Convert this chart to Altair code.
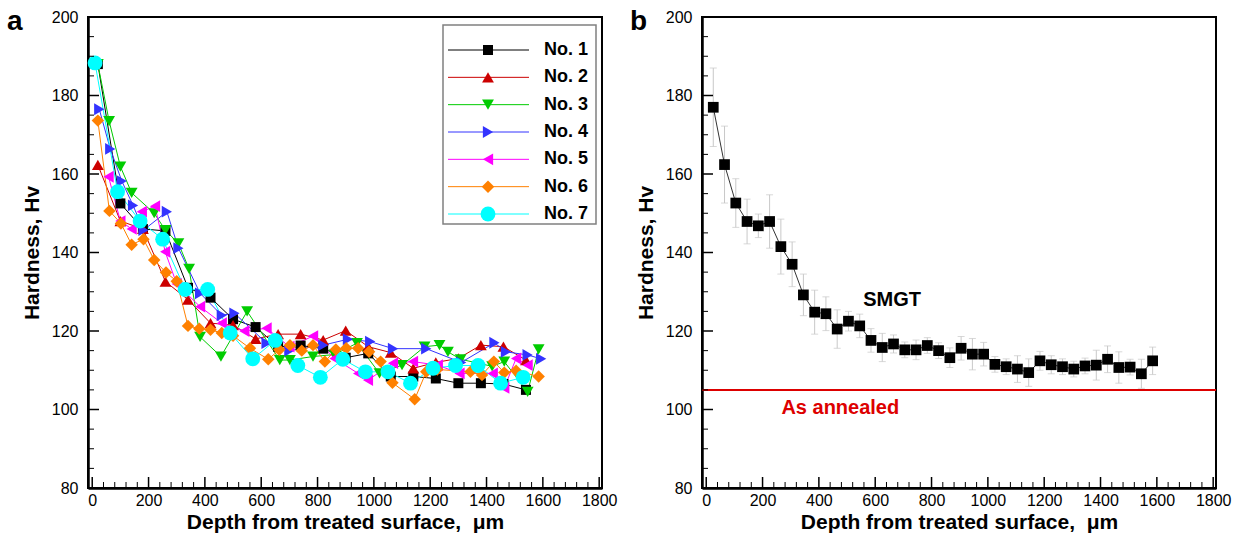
import altair as alt
import pandas as pd

FONT = "Liberation Sans"
W, H = 514, 471
X_DOMAIN = [-15, 1810]
Y_DOMAIN = [80, 200]

x_major = [0, 200, 400, 600, 800, 1000, 1200, 1400, 1600, 1800]
x_minor = [v for v in range(0, 1801, 40) if v % 200 != 0]
y_major = [80, 100, 120, 140, 160, 180, 200]
y_minor = [v for v in range(80, 201, 5) if v % 20 != 0]

X_TITLE = "Depth from treated surface,\u00a0\u00a0\u03bcm"
Y_TITLE = "Hardness, Hv"

# ---------------- panel a : seven samples ----------------
names = ["No. 1", "No. 2", "No. 3", "No. 4", "No. 5", "No. 6", "No. 7"]
colors = ["#000000", "#CC0000", "#00CC00", "#3333FF", "#FF00FF", "#FF8000", "#00FFFF"]
shapes = ["square", "triangle-up", "triangle-down", "triangle-right",
          "triangle-left", "diamond", "circle"]
sizes = [100, 140, 140, 140, 140, 155, 220]

s1_x = [20, 100, 180, 260, 340, 420, 500, 580, 660, 740, 820, 900, 980, 1060, 1140,
        1220, 1300, 1380, 1460, 1540]
s1_y = [188, 152.5, 146, 145.5, 131, 128.5, 123, 121, 116, 116.3, 115.5, 113.2, 114.3,
        108.4, 108.4, 107.9, 106.7, 106.7, 106.5, 105]

s2_x = [20, 100, 180, 260, 340, 420, 500, 580, 660, 740, 820, 900, 980, 1060, 1140,
        1220, 1300, 1380, 1460, 1540]
s2_y = [162.3, 148, 146, 132.6, 128, 122, 121.5, 118, 119.2, 119.2, 117.7, 120.1, 116,
        114.5, 110.5, 112, 113, 116.4, 116, 112.6]

s3_x = [20, 60, 100, 140, 220, 260, 306, 344, 383, 457, 550, 666, 702, 784, 860, 940,
        1020, 1100, 1180, 1233, 1263, 1308, 1420, 1463, 1546, 1585]
s3_y = [188, 173.5, 161.9, 155.2, 150, 145.7, 142.3, 135.8, 118.5, 113.5, 125, 112.6,
        112.6, 113.5, 114, 116.9, 109.2, 111.3, 116, 116.4, 114.7, 112.8, 111, 112.2,
        104.5, 115.3]

s4_x = [25, 64, 105, 145, 182, 265, 306, 383, 460, 505, 619, 700, 820, 908, 987, 1068,
        1186, 1310, 1428, 1469, 1546, 1594]
s4_y = [176.5, 166.4, 158.2, 152, 145.7, 150.4, 141.1, 129.6, 124, 124.5, 116.9, 115,
        116.4, 117.9, 117.3, 115.5, 115.5, 112, 117, 114.7, 113.9, 112.9]

s5_x = [58, 100, 140, 176, 223, 259, 300, 383, 460, 540, 619, 700, 784, 860, 944, 979,
        1068, 1139, 1227, 1304, 1422, 1463, 1505, 1546]
s5_y = [159.3, 148, 146, 150.4, 151.8, 140.2, 132, 126.2, 122, 120, 120.7, 116, 118.7,
        113, 109.2, 107.5, 111.8, 112.2, 111.3, 109.2, 109.2, 105.5, 113, 111.3]

s6_x = [20, 61, 102, 140, 182, 220, 262, 300, 340, 380, 420, 460, 500, 560, 625, 664,
        702, 744, 784, 826, 865, 902, 944, 983, 1024, 1066, 1145, 1186, 1225, 1343, 1384,
        1426, 1463, 1505, 1585]
s6_y = [173.6, 150.6, 147.4, 142, 143.4, 138.1, 134.9, 132.7, 121.3, 120.6, 120.3, 119.5,
        118.8, 115.6, 112.8, 115.2, 116.4, 115, 116.4, 112.2, 115.3, 115.6, 115.6, 114.7,
        112.2, 106.8, 102.6, 109.6, 110.2, 109.6, 108.8, 112.2, 109.4, 109.9, 108.4]

s7_x = [10, 90, 170, 250, 330, 410, 490, 570, 650, 730, 810, 890, 970, 1050, 1130, 1210,
        1290, 1370, 1450, 1530]
s7_y = [188.3, 155.5, 148, 143.4, 130.6, 130.6, 119.5, 112.9, 117.6, 111.2, 108.2, 112.8,
        109.6, 109.6, 106.7, 110.5, 111.2, 111.2, 106.7, 108.2]

series_x = [s1_x, s2_x, s3_x, s4_x, s5_x, s6_x, s7_x]
series_y = [s1_y, s2_y, s3_y, s4_y, s5_y, s6_y, s7_y]

# ---------------- panel b : SMGT average ----------------
b_x = [25, 65, 105, 145, 185, 225, 265, 305, 345, 385, 425, 465, 505, 545, 585, 625, 665,
       705, 745, 785, 825, 865, 905, 945, 985, 1025, 1065, 1105, 1145, 1185, 1225, 1265,
       1305, 1345, 1385, 1425, 1465, 1505, 1545, 1585]
b_y = [177.0, 162.4, 152.6, 147.9, 146.8, 147.9, 141.5, 137.0, 129.2, 124.8, 124.4, 120.5,
       122.5, 121.3, 117.6, 115.8, 116.7, 115.2, 115.2, 116.3, 115.0, 113.2, 115.6, 114.1,
       114.1, 111.5, 110.9, 110.3, 109.4, 112.4, 111.4, 110.9, 110.3, 111.1, 111.3, 112.8,
       110.7, 110.8, 109.1, 112.4]
b_err = [10, 9.8, 6.2, 5.7, 3, 6.8, 7, 5.7, 5.3, 5.6, 4.3, 4.9, 2.5, 3, 3, 3.6, 2.3, 2,
         2.5, 2, 2, 2.5, 3, 4, 3, 2, 2, 3.4, 3.5, 2.4, 2.3, 2, 2, 2, 3.8, 3.4, 4, 2, 3.7, 3.5]
annealed = [105]

rows = []
for i, n in enumerate(names):
    for xv, yv in zip(series_x[i], series_y[i]):
        rows.append({"series": n, "depth": xv, "hv": yv, "color": colors[i],
                     "shape": shapes[i], "size": sizes[i], "k": i})
df_a = pd.DataFrame(rows)

df_b = pd.DataFrame({"depth": b_x, "hv": b_y, "err": b_err})
df_b["lo"] = df_b["hv"] - df_b["err"]
df_b["hi"] = df_b["hv"] + df_b["err"]

xs = alt.Scale(domain=X_DOMAIN, nice=False, zero=False)
ys = alt.Scale(domain=Y_DOMAIN, nice=False, zero=False)

XAX = alt.Axis(values=x_major, title=X_TITLE, ticks=False, grid=False, format="d",
               labelPadding=4, titlePadding=3)
YAX = alt.Axis(values=y_major, title=Y_TITLE, ticks=False, grid=False, format="d",
               labelPadding=10, titlePadding=9)


def X(f):
    return alt.X(f, scale=xs, axis=XAX)


def Y(f):
    return alt.Y(f, scale=ys, axis=YAX)


def tick_layers():
    xmaj = alt.Chart(pd.DataFrame({"depth": x_major})).mark_rule(
        color="black", strokeWidth=1.5).encode(
        x=X("depth:Q"), y=alt.value(H), y2=alt.value(H - 11))
    xmin = alt.Chart(pd.DataFrame({"depth": x_minor})).mark_rule(
        color="black", strokeWidth=1).encode(
        x=X("depth:Q"), y=alt.value(H), y2=alt.value(H - 6))
    ymaj = alt.Chart(pd.DataFrame({"hv": y_major})).mark_rule(
        color="black", strokeWidth=1.5).encode(
        y=Y("hv:Q"), x=alt.value(0), x2=alt.value(11))
    ymin = alt.Chart(pd.DataFrame({"hv": y_minor})).mark_rule(
        color="black", strokeWidth=1).encode(
        y=Y("hv:Q"), x=alt.value(0), x2=alt.value(6))
    return [xmaj, xmin, ymaj, ymin]


def letter(t, dx):
    return alt.Chart(pd.DataFrame({"t": [t]})).mark_text(
        font=FONT, fontSize=28, fontWeight="bold", align="left", baseline="alphabetic",
        color="black").encode(x=alt.value(dx), y=alt.value(13), text="t:N")


# ---- panel a layers ----
base_a = alt.Chart(df_a)
lines_a = base_a.mark_line(strokeWidth=1).encode(
    x=X("depth:Q"), y=Y("hv:Q"),
    color=alt.Color("color:N", scale=None),
    detail="series:N",
    order="depth:Q",
)
pts_a = base_a.mark_point(filled=True, opacity=1, strokeWidth=0).encode(
    x=X("depth:Q"), y=Y("hv:Q"),
    color=alt.Color("color:N", scale=None),
    shape=alt.Shape("shape:N", scale=None),
    size=alt.Size("size:Q", scale=None),
    order="k:Q",
)
inner_a = alt.layer(lines_a, pts_a, *tick_layers(), letter("a", -81))

leg_df = pd.DataFrame({"series": names, "color": colors, "shape": shapes, "size": sizes})
ly = alt.Y("series:N", scale=alt.Scale(type="point", domain=names, range=[33, 197],
                                       padding=0), axis=None)
box = alt.Chart(pd.DataFrame({"k": [0]})).mark_rect(
    fill="white", stroke="#808080", strokeWidth=1.5).encode(
    x=alt.value(355), x2=alt.value(508), y=alt.value(8), y2=alt.value(207))
leg_lines = alt.Chart(leg_df).mark_rule(strokeWidth=1).encode(
    x=alt.value(360), x2=alt.value(441), y=ly, color=alt.Color("color:N", scale=None))
leg_pts = alt.Chart(leg_df).mark_point(filled=True, opacity=1, strokeWidth=0).encode(
    x=alt.value(400), y=ly, color=alt.Color("color:N", scale=None),
    shape=alt.Shape("shape:N", scale=None), size=alt.Size("size:Q", scale=None))
leg_text = alt.Chart(leg_df).mark_text(
    font=FONT, fontSize=18, fontWeight="bold", align="left", baseline="middle",
    color="black").encode(x=alt.value(456), y=ly, text="series:N")
legend_layer = alt.layer(box, leg_lines, leg_pts, leg_text)

panel_a = alt.layer(inner_a, legend_layer).resolve_scale(y="independent").properties(
    width=W, height=H)

# ---- panel b layers ----
base_b = alt.Chart(df_b)
err_rule = base_b.mark_rule(color="#C8C8C8", strokeWidth=1).encode(
    x=X("depth:Q"), y=Y("lo:Q"), y2="hi:Q")
cap_lo = base_b.mark_tick(color="#C8C8C8", thickness=1, size=7, orient="horizontal").encode(
    x=X("depth:Q"), y=Y("lo:Q"))
cap_hi = base_b.mark_tick(color="#C8C8C8", thickness=1, size=7, orient="horizontal").encode(
    x=X("depth:Q"), y=Y("hi:Q"))
line_b = base_b.mark_line(color="#333333", strokeWidth=1).encode(
    x=X("depth:Q"), y=Y("hv:Q"))
pts_b = base_b.mark_point(filled=True, opacity=1, shape="square", size=115,
                          color="black", strokeWidth=0).encode(
    x=X("depth:Q"), y=Y("hv:Q"))
ann_rule = alt.Chart(pd.DataFrame({"hv": annealed})).mark_rule(
    color="#DD0000", strokeWidth=2).encode(y=Y("hv:Q"))
txt_df = pd.DataFrame({"depth": [660, 476], "hv": [127.8, 100.4],
                       "t": ["SMGT", "As annealed"], "c": ["#000000", "#DD0000"]})
txt_b = alt.Chart(txt_df).mark_text(font=FONT, fontSize=20, fontWeight="bold",
                                    align="center", baseline="middle").encode(
    x=X("depth:Q"), y=Y("hv:Q"),
    text="t:N", color=alt.Color("c:N", scale=None))

panel_b = alt.layer(line_b, err_rule, cap_lo, cap_hi, pts_b, ann_rule, txt_b,
                    *tick_layers(), letter("b", -72)).properties(width=W, height=H)

chart = alt.hconcat(panel_a, panel_b, spacing=11).properties(
    padding={"left": 6, "top": 7, "right": 5, "bottom": 5}
).configure_view(stroke="black", strokeWidth=2).configure_axis(
    labelFont=FONT, labelFontSize=16, labelColor="black",
    titleFont=FONT, titleFontSize=21, titleFontWeight="bold", titleColor="black",
    domainColor="black", domainWidth=2.5,
)

chart.save("out.html", embed_options={"renderer": "svg", "actions": False})
